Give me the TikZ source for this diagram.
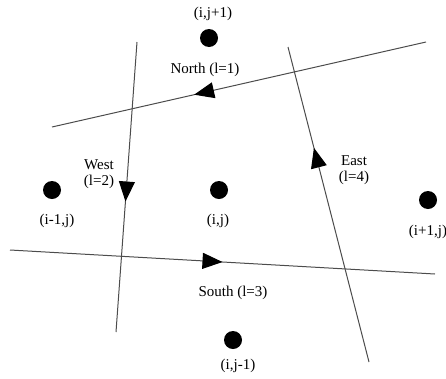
\documentclass[tikz,border=0pt]{standalone}
\usepackage{fontspec}
\setmainfont{Liberation Serif}
\usetikzlibrary{arrows.meta,decorations.markings}
\tikzset{
  cell/.style={circle,fill=black,inner sep=0pt,minimum size=18pt},
  lab/.style={font=\fontsize{15}{16}\selectfont,inner sep=1pt,text=black},
  face/.style={draw=black!70,line width=1pt},
  midarrow/.style={postaction={decorate},decoration={markings,
     mark=at position #1 with {\arrow{Triangle[length=20pt,width=16pt,black]}}}}
}
\begin{document}
\begin{tikzpicture}[x=1pt,y=-1pt]
\useasboundingbox (0,0) rectangle (446,378);
% cell centres
\node[cell] (n)  at (209,38)  {};
\node[cell] (w)  at (52,190)  {};
\node[cell] (c)  at (219,190) {};
\node[cell] (e)  at (428,200) {};
\node[cell] (s)  at (233,340) {};
% cell labels
\node[lab] (ln) at (213,14)  {(i,j+1)};
\node[lab] (lw) at (57,221)  {(i-1,j)};
\node[lab] (lc) at (218,221) {(i,j)};
\node[lab] (le) at (428,232) {(i+1,j)};
\node[lab] (ls) at (238,366) {(i,j-1)};
% face line end points
\coordinate (N1) at (426,42);  \coordinate (N2) at (52,127);
\coordinate (W1) at (137,42);  \coordinate (W2) at (116,332);
\coordinate (S1) at (10,250);  \coordinate (S2) at (435,274);
\coordinate (E1) at (369,362); \coordinate (E2) at (288,47);
% faces with orientation
\draw[face,midarrow=0.62] (N1) -- (N2);
\draw[face,midarrow=0.55] (W1) -- (W2);
\draw[face,midarrow=0.50] (S1) -- (S2);
\draw[face,midarrow=0.68] (E1) -- (E2);
% face labels
\node[lab] (tn) at (205,70) {North (l=1)};
\node[lab,align=center] (tw) at (99,174) {West\\(l=2)};
\node[lab,align=center] (te) at (354,170) {East\\(l=4)};
\node[lab] (ts) at (233,293) {South (l=3)};
\end{tikzpicture}
\end{document}
